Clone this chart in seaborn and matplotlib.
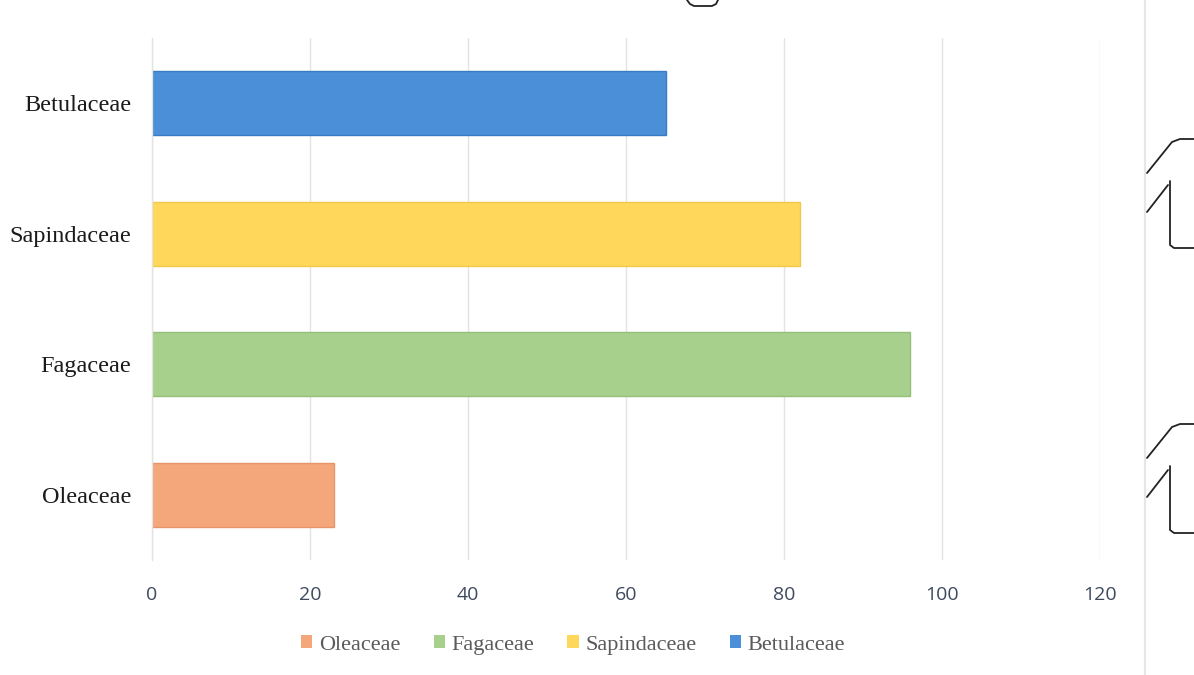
import matplotlib
matplotlib.use("Agg")
import matplotlib.pyplot as plt
from matplotlib.lines import Line2D
from matplotlib.patches import Patch
import seaborn as sns
import pandas as pd

# Plant families and their counts
families = ["Oleaceae", "Fagaceae", "Sapindaceae", "Betulaceae"]
counts = [23, 96, 82, 65]
colors = ["#F4A77A", "#A6D08B", "#FFD75A", "#4A8FD8"]
edges = ["#E8946A", "#93BF78", "#F2C84A", "#3A7CC4"]
x_ticks = [0, 20, 40, 60, 80, 100, 120]

df = pd.DataFrame({"family": families, "count": counts})
palette = dict(zip(families, colors))
plot_order = families[::-1]

sns.set_theme(style="white")
plt.rcParams["font.family"] = ["Liberation Serif", "DejaVu Serif"]

W, H = 1194, 675
fig = plt.figure(figsize=(W / 100, H / 100), dpi=100)
ax = fig.add_axes([152 / W, 1 - 560 / H, (1100 - 152) / W, (560 - 38) / H])

sns.barplot(data=df, y="family", x="count", hue="family", order=plot_order,
            hue_order=families, palette=palette, orient="h", dodge=False,
            width=0.49, legend=False, ax=ax, linewidth=0, saturation=1)

# bar outlines
edge_of = {c.lower(): e for c, e in zip(colors, edges)}
for patch in ax.patches:
    key = matplotlib.colors.to_hex(patch.get_facecolor()).lower()
    if key in edge_of:
        patch.set_edgecolor(edge_of[key])
        patch.set_linewidth(1.0)

ax.set_xlim(0, 120)
ax.set_ylim(3.5, -0.5)
ax.set_xticks(x_ticks)
ax.set_xticklabels([str(t) for t in x_ticks], fontfamily="Open Sans",
                   fontsize=14, color="#3E4A5E")
ax.tick_params(axis="x", length=0, pad=19)
ax.tick_params(axis="y", length=0, pad=15, labelsize=17.5, labelcolor="#1A1A1A")
ax.set_xlabel("")
ax.set_ylabel("")

ax.grid(axis="x", color="#E3E3E3", linewidth=1.0)
ax.set_axisbelow(True)
for side in ["top", "right", "bottom"]:
    ax.spines[side].set_visible(False)
ax.spines["left"].set_color("#E3E3E3")
ax.spines["left"].set_linewidth(1.0)

handles = [Patch(facecolor=c, edgecolor="none", label=f) for f, c in zip(families, colors)]
fig.legend(handles=handles, loc="center", bbox_to_anchor=(573 / W, 1 - 645 / H),
           ncol=4, frameon=False, fontsize=16, handlelength=0.5, handleheight=0.5,
           handletextpad=0.3, columnspacing=1.5, labelcolor="#5A5A5A")

# page frame details at the right edge
def fline(xs, ys, color="#222222", lw=1.3):
    fig.add_artist(Line2D([x / W for x in xs], [1 - y / H for y in ys],
                          transform=fig.transFigure, color=color, linewidth=lw,
                          solid_capstyle="round"))

fline([1145, 1145], [0, 675], color="#E6E6E6", lw=1.5)
for top in (0, 285):
    fline([1147, 1172, 1180, 1194], [173 + top, 142 + top, 139 + top, 139 + top])
    fline([1147, 1168], [212 + top, 185 + top])
    fline([1170, 1170, 1174, 1194], [181 + top, 245 + top, 248 + top, 248 + top])
fline([687, 690, 694, 712, 716, 718], [0, 4, 6, 6, 4, 0])

fig.savefig("out.png", dpi=100)
